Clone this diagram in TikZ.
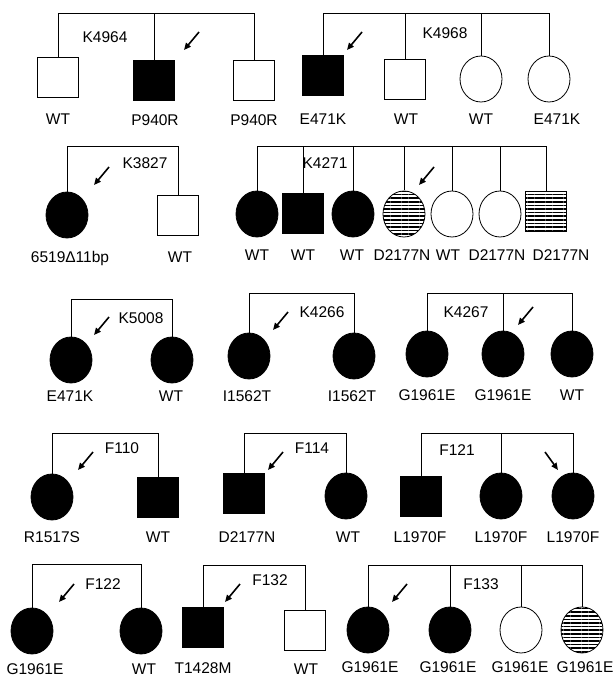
\documentclass[tikz,border=0pt]{standalone}
\usepackage{fontspec}
\setmainfont{Liberation Sans}
\usepackage{tikz}
\usetikzlibrary{shapes.geometric, arrows.meta, patterns.meta}

\begin{document}
\begin{tikzpicture}[
    x=1pt, y=-1pt,
    sq/.style={draw, line width=0.8pt, minimum width=41pt, minimum height=40pt, inner sep=0pt},
    ci/.style={draw, ellipse, line width=0.8pt, minimum width=42pt, minimum height=46pt, inner sep=0pt},
    aff/.style={fill=black},
    car/.style={pattern={Lines[distance=3.6pt, line width=1.6pt]}},
    txt/.style={anchor=base, inner sep=0pt, font=\fontsize{15.5}{17}\selectfont},
    ln/.style={line width=0.8pt},
    pb/.style={-{Triangle[length=7pt, width=6pt]}, line width=1.6pt}
  ]
    \useasboundingbox (0,0) rectangle (615,677);

    % K4964 and K4968
    \node[sq] (k4964a) at (58,77) {};
    \node[sq, aff] (k4964b) at (154,80) {};
    \node[sq] (k4964c) at (254,80) {};
    \node[txt] (k4964) at (105,43) {K4964};
    \node[txt] (k4964a-t) at (58,124) {WT};
    \node[txt] (k4964b-t) at (155,125) {P940R};
    \node[txt] (k4964c-t) at (254,125) {P940R};
    \coordinate (k4964bar) at (0,13);
    \coordinate (k4964p) at (199,32);

    \node[sq, aff] (k4968a) at (323,75) {};
    \node[sq] (k4968b) at (405,79) {};
    \node[ci] (k4968c) at (481,79) {};
    \node[ci] (k4968d) at (549,79) {};
    \node[txt] (k4968) at (445,38) {K4968};
    \node[txt] (k4968a-t) at (323,124) {E471K};
    \node[txt] (k4968b-t) at (406,124) {WT};
    \node[txt] (k4968c-t) at (481,124) {WT};
    \node[txt] (k4968d-t) at (557,124) {E471K};
    \coordinate (k4968bar) at (0,13);
    \coordinate (k4968p) at (362,32);

    % K3827 and K4271
    \node[ci, aff] (k3827a) at (67,215) {};
    \node[sq] (k3827b) at (178,215) {};
    \node[txt] (k3827) at (145,168) {K3827};
    \node[txt] (k3827a-t) at (70,262) {6519Δ11bp};
    \node[txt] (k3827b-t) at (180,262) {WT};
    \coordinate (k3827bar) at (0,146);
    \coordinate (k3827p) at (109,167);

    \node[ci, aff] (k4271a) at (257,214) {};
    \node[sq, aff] (k4271b) at (303,213) {};
    \node[ci, aff] (k4271c) at (353,214) {};
    \node[ci, car] (k4271d) at (404,214) {};
    \node[ci] (k4271e) at (452,214) {};
    \node[ci] (k4271f) at (500,214) {};
    \node[sq, car] (k4271g) at (546,211) {};
    \node[txt] (k4271) at (325,168) {K4271};
    \node[txt] (k4271a-t) at (257,260) {WT};
    \node[txt] (k4271b-t) at (303,260) {WT};
    \node[txt] (k4271c-t) at (352,260) {WT};
    \node[txt] (k4271d-t) at (402,260) {D2177N};
    \node[txt] (k4271e-t) at (448,260) {WT};
    \node[txt] (k4271f-t) at (497,260) {D2177N};
    \node[txt] (k4271g-t) at (561,260) {D2177N};
    \coordinate (k4271bar) at (0,146);
    \coordinate (k4271p) at (434,167);

    % K5008, K4266, K4267
    \node[ci, aff] (k5008a) at (71,360) {};
    \node[ci, aff] (k5008b) at (172,360) {};
    \node[txt] (k5008) at (141,323) {K5008};
    \node[txt] (k5008a-t) at (70,401) {E471K};
    \node[txt] (k5008b-t) at (171,401) {WT};
    \coordinate (k5008bar) at (0,299);
    \coordinate (k5008p) at (109,317);

    \node[ci, aff] (k4266a) at (249,356) {};
    \node[ci, aff] (k4266b) at (354,356) {};
    \node[txt] (k4266) at (322,317) {K4266};
    \node[txt] (k4266a-t) at (247,401) {I1562T};
    \node[txt] (k4266b-t) at (352,401) {I1562T};
    \coordinate (k4266bar) at (0,293);
    \coordinate (k4266p) at (288,312);

    \node[ci, aff] (k4267a) at (427,354) {};
    \node[ci, aff] (k4267b) at (503,354) {};
    \node[ci, aff] (k4267c) at (572,354) {};
    \node[txt] (k4267) at (466,317) {K4267};
    \node[txt] (k4267a-t) at (427,400) {G1961E};
    \node[txt] (k4267b-t) at (503,400) {G1961E};
    \node[txt] (k4267c-t) at (572,400) {WT};
    \coordinate (k4267bar) at (0,293);
    \coordinate (k4267p) at (533,307);

    % F110, F114, F121
    \node[ci, aff] (f110a) at (52,497) {};
    \node[sq, aff] (f110b) at (158,497) {};
    \node[txt] (f110) at (122,453) {F110};
    \node[txt] (f110a-t) at (52,542) {R1517S};
    \node[txt] (f110b-t) at (158,542) {WT};
    \coordinate (f110bar) at (0,433);
    \coordinate (f110p) at (93,452);

    \node[sq, aff] (f114a) at (244,493) {};
    \node[ci, aff] (f114b) at (346,496) {};
    \node[txt] (f114) at (312,453) {F114};
    \node[txt] (f114a-t) at (247,542) {D2177N};
    \node[txt] (f114b-t) at (348,542) {WT};
    \coordinate (f114bar) at (0,433);
    \coordinate (f114p) at (283,452);

    \node[sq, aff] (f121a) at (421,496) {};
    \node[ci, aff] (f121b) at (501,496) {};
    \node[ci, aff] (f121c) at (573,496) {};
    \node[txt] (f121) at (457,455) {F121};
    \node[txt] (f121a-t) at (420,542) {L1970F};
    \node[txt] (f121b-t) at (501,542) {L1970F};
    \node[txt] (f121c-t) at (573,542) {L1970F};
    \coordinate (f121bar) at (0,433);
    \coordinate (f121p) at (545,452);

    % F122, F132, F133
    \node[ci, aff] (f122a) at (32,631) {};
    \node[ci, aff] (f122b) at (141,631) {};
    \node[txt] (f122) at (103,589) {F122};
    \node[txt] (f122a-t) at (35,674) {G1961E};
    \node[txt] (f122b-t) at (144,674) {WT};
    \coordinate (f122bar) at (0,564);
    \coordinate (f122p) at (74,584);

    \node[sq, aff] (f132a) at (203,627) {};
    \node[sq] (f132b) at (305,630) {};
    \node[txt] (f132) at (270,585) {F132};
    \node[txt] (f132a-t) at (203,673) {T1428M};
    \node[txt] (f132b-t) at (306,674) {WT};
    \coordinate (f132bar) at (0,565);
    \coordinate (f132p) at (240,584);

    \node[ci, aff] (f133a) at (368,630) {};
    \node[ci, aff] (f133b) at (450,630) {};
    \node[ci] (f133c) at (521,630) {};
    \node[ci, car] (f133d) at (582,630) {};
    \node[txt] (f133) at (481,589) {F133};
    \node[txt] (f133a-t) at (370,672) {G1961E};
    \node[txt] (f133b-t) at (448,672) {G1961E};
    \node[txt] (f133c-t) at (520,672) {G1961E};
    \node[txt] (f133d-t) at (585,672) {G1961E};
    \coordinate (f133bar) at (0,565);
    \coordinate (f133p) at (407,584);

    % sibship lines
    \draw[ln] (k4964a.north) |- (k4964c.north |- k4964bar) -- (k4964c.north);
    \draw[ln] (k4964b.north) -- (k4964b.north |- k4964bar);
    \draw[ln] (k4968a.north) |- (k4968d.north |- k4968bar) -- (k4968d.north);
    \foreach \m in {b,c}
      \draw[ln] (k4968\m.north) -- (k4968\m.north |- k4968bar);
    \draw[ln] (k3827a.north) |- (k3827b.north |- k3827bar) -- (k3827b.north);
    \draw[ln] (k4271a.north) |- (k4271g.north |- k4271bar) -- (k4271g.north);
    \foreach \m in {b,c,d,e,f}
      \draw[ln] (k4271\m.north) -- (k4271\m.north |- k4271bar);
    \draw[ln] (k5008a.north) |- (k5008b.north |- k5008bar) -- (k5008b.north);
    \draw[ln] (k4266a.north) |- (k4266b.north |- k4266bar) -- (k4266b.north);
    \draw[ln] (k4267a.north) |- (k4267c.north |- k4267bar) -- (k4267c.north);
    \draw[ln] (k4267b.north) -- (k4267b.north |- k4267bar);
    \draw[ln] (f110a.north) |- (f110b.north |- f110bar) -- (f110b.north);
    \draw[ln] (f114a.north) |- (f114b.north |- f114bar) -- (f114b.north);
    \draw[ln] (f121a.north) |- (f121c.north |- f121bar) -- (f121c.north);
    \draw[ln] (f121b.north) -- (f121b.north |- f121bar);
    \draw[ln] (f122a.north) |- (f122b.north |- f122bar) -- (f122b.north);
    \draw[ln] (f132a.north) |- (f132b.north |- f132bar) -- (f132b.north);
    \draw[ln] (f133a.north) |- (f133d.north |- f133bar) -- (f133d.north);
    \foreach \m in {b,c}
      \draw[ln] (f133\m.north) -- (f133\m.north |- f133bar);

    % probands
    \foreach \p in {k4964p,k4968p,k3827p,k4271p,k5008p,k4266p,k4267p,f110p,f114p,f122p,f132p,f133p}
      \draw[pb] (\p) -- ++(-15,18);
    \draw[pb] (f121p) -- ++(13,18);
\end{tikzpicture}
\end{document}
